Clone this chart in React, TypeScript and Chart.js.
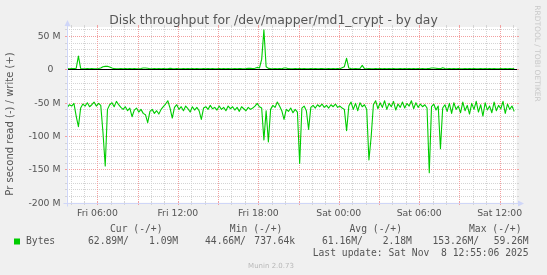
import React, { useEffect, useRef } from 'react';
import { Chart, registerables } from 'chart.js';

Chart.register(...registerables);

// ---- time axis (hours since Fri 00:00) ----
const START_HOUR = 3.75; // first sample: Fri 03:45
const STEP_HOURS = 1 / 6; // 10 minute samples
const X_MIN = 3.71;
const X_MAX = 37.27;

// ---- value axis (millions of bytes per second) ----
const Y_MIN = -200;
const Y_MAX = 63.6;

// Read throughput (M/s), plotted below zero
const READ_M = [
  57, 53, 55, 51, 70, 86, 58, 52, 55, 50,
  56, 53, 49, 55, 51, 54, 95, 145, 60, 53,
  50, 56, 48, 53, 57, 60, 56, 62, 58, 71,
  61, 58, 64, 60, 66, 68, 80, 63, 60, 66,
  62, 67, 60, 56, 52, 47, 58, 73, 57, 53,
  60, 56, 62, 55, 59, 64, 56, 61, 57, 62,
  75, 58, 56, 60, 54, 59, 57, 61, 55, 60,
  57, 62, 55, 59, 56, 61, 57, 63, 56, 59,
  62, 57, 60, 58, 55, 51, 56, 58, 106, 62,
  109, 60, 54, 57, 49, 55, 62, 75, 60, 63,
  58, 65, 60, 64, 141, 58, 55, 62, 90, 57,
  54, 58, 53, 56, 52, 57, 54, 58, 53, 56,
  52, 57, 55, 58, 60, 92, 55, 49, 60, 51,
  62, 50, 56, 53, 60, 136, 101, 53, 47, 59,
  50, 57, 47, 60, 51, 56, 48, 61, 52, 57,
  49, 58, 51, 55, 47, 59, 50, 57, 52, 56,
  53, 58, 155, 56, 52, 61, 55, 119, 58, 53,
  63, 51, 66, 50, 60, 55, 65, 49, 62, 54,
  67, 51, 60, 48, 64, 53, 70, 50, 61, 55,
  65, 49, 62, 54, 59, 48, 66, 52, 60, 55,
  63,
];

// Write throughput (M/s), plotted above zero
const WRITE_M = [
  1.2, 1.0, 1.3, 1.1, 1.6, 20, 1.4, 1.0, 0.9, 1.1,
  1.0, 1.2, 0.9, 1.0, 1.3, 2.0, 4.0, 4.5, 4.8, 3.5,
  2.0, 1.1, 1.0, 0.9, 1.2, 1.0, 1.1, 0.9, 1.3, 1.0,
  1.1, 1.0, 0.9, 1.2, 2.2, 2.0, 1.8, 1.0, 0.9, 1.1,
  1.0, 1.2, 1.0, 1.1, 0.9, 1.0, 1.6, 1.2, 1.0, 1.1,
  0.9, 1.0, 1.3, 1.0, 1.2, 0.9, 1.1, 1.0, 1.4, 1.0,
  0.9, 1.2, 1.0, 1.1, 1.0, 1.3, 1.0, 0.74, 1.1, 1.0,
  1.2, 1.0, 1.1, 0.9, 1.0, 1.2, 1.0, 1.3, 1.1, 1.0,
  1.2, 1.5, 1.8, 1.2, 1.6, 3.0, 2.0, 15, 59.26, 4.0,
  1.5, 1.2, 1.0, 1.1, 1.0, 1.2, 1.0, 2.2, 2.0, 1.1,
  1.0, 0.9, 1.2, 1.0, 1.1, 1.0, 1.3, 1.0, 0.9, 1.1,
  1.0, 1.2, 1.0, 1.1, 1.4, 1.0, 0.9, 1.2, 1.0, 1.1,
  1.0, 1.3, 1.0, 2.5, 4.0, 16.7, 2.0, 1.2, 1.0, 1.3,
  1.0, 1.4, 6.0, 1.2, 1.0, 1.1, 0.9, 1.0, 1.2, 1.0,
  1.1, 0.9, 1.3, 1.0, 1.2, 1.0, 1.1, 0.9, 1.0, 1.2,
  1.0, 1.1, 1.0, 1.3, 1.0, 1.2, 0.9, 1.1, 1.0, 1.2,
  1.0, 1.1, 1.3, 2.0, 2.2, 1.8, 1.2, 1.1, 2.5, 1.2,
  1.0, 1.1, 1.0, 1.3, 1.0, 1.2, 0.9, 1.0, 1.1, 1.0,
  1.2, 1.0, 1.1, 0.9, 1.0, 1.3, 1.0, 1.1, 1.0, 1.2,
  1.0, 1.1, 0.9, 1.0, 1.2, 1.0, 1.3, 1.0, 1.1, 1.0,
  1.09,
];

const X_TICK_HOURS = [6, 12, 18, 24, 30, 36];
const X_TICK_LABELS = ['Fri 06:00', 'Fri 12:00', 'Fri 18:00', 'Sat 00:00', 'Sat 06:00', 'Sat 12:00'];
const Y_TICK_VALUES = [50, 0, -50, -100, -150, -200];
const Y_TICK_LABELS = ['50 M', '0', '-50 M', '-100 M', '-150 M', '-200 M'];

const TITLE = 'Disk throughput for /dev/mapper/md1_crypt - by day';
const Y_TITLE = 'Pr second read (-) / write (+)';
const SERIES_NAME = 'Bytes';
const LEGEND_HEADERS = ['Cur (-/+)', 'Min (-/+)', 'Avg (-/+)', 'Max (-/+)'];
const STAT_READ = ['62.89M/', '44.66M/', '61.16M/', '153.26M/'];
const STAT_WRITE = ['1.09M', '737.64k', '2.18M', '59.26M'];
const LAST_UPDATE = 'Last update: Sat Nov  8 12:55:06 2025';
const VERSION = 'Munin 2.0.73';
const WATERMARK = 'RRDTOOL / TOBI OETIKER';

const GREEN = '#00cc00';
const TEXT = '#555555';

const rrdPlugin = {
  id: 'rrdStyle',
  beforeDraw(chart: any) {
    const { ctx, chartArea: a, width, height } = chart;
    const xs = chart.scales.x;
    const ys = chart.scales.y;
    ctx.save();
    ctx.fillStyle = '#f0f0f0';
    ctx.fillRect(0, 0, width, height);
    ctx.fillStyle = '#ffffff';
    ctx.fillRect(a.left, a.top, a.right - a.left, a.bottom - a.top);

    const L = Math.round(a.left);
    const R = Math.round(a.right);
    const T = Math.round(a.top);
    const B = Math.round(a.bottom);
    ctx.lineWidth = 1;

    const drawH = (v: number, color: string) => {
      const y = Math.round(ys.getPixelForValue(v)) + 0.5;
      ctx.strokeStyle = color;
      ctx.setLineDash([1, 1]);
      ctx.beginPath();
      ctx.moveTo(L, y);
      ctx.lineTo(R, y);
      ctx.stroke();
      ctx.setLineDash([]);
      ctx.beginPath();
      ctx.moveTo(L - 2, y);
      ctx.lineTo(L, y);
      ctx.moveTo(R, y);
      ctx.lineTo(R + 2, y);
      ctx.stroke();
    };
    const drawV = (h: number, color: string) => {
      const x = Math.round(xs.getPixelForValue(h)) + 0.5;
      ctx.strokeStyle = color;
      ctx.setLineDash([1, 1]);
      ctx.beginPath();
      ctx.moveTo(x, T);
      ctx.lineTo(x, B);
      ctx.stroke();
      ctx.setLineDash([]);
      ctx.beginPath();
      ctx.moveTo(x, B - 1);
      ctx.lineTo(x, B + 2);
      ctx.moveTo(x, T - 2);
      ctx.lineTo(x, T);
      ctx.stroke();
    };

    const minorC = '#d4d4d4';
    const majorC = '#f2a0a0';
    for (let v = -200; v <= 60; v += 10) if (v % 50 !== 0) drawH(v, minorC);
    for (let h = Math.ceil(X_MIN); h <= Math.floor(X_MAX); h++) if (h % 3 !== 0) drawV(h, minorC);
    for (let v = -200; v <= 60; v += 10) if (v % 50 === 0) drawH(v, majorC);
    for (let h = Math.ceil(X_MIN); h <= Math.floor(X_MAX); h++) if (h % 3 === 0) drawV(h, majorC);
    ctx.restore();
  },
  afterDatasetsDraw(chart: any) {
    const { ctx, chartArea: a, width } = chart;
    const xs = chart.scales.x;
    const ys = chart.scales.y;
    ctx.save();
    const L = Math.round(a.left) + 0.5;
    const B = Math.round(a.bottom) + 0.5;
    const T = Math.round(a.top);
    const R = Math.round(a.right);

    // zero rule, drawn over the series like rrdtool does
    const y0 = Math.round(ys.getPixelForValue(0)) + 0.5;
    ctx.lineWidth = 1;
    ctx.strokeStyle = '#000000';
    ctx.beginPath();
    ctx.moveTo(Math.round(a.left), y0);
    ctx.lineTo(R, y0);
    ctx.stroke();

    // axes with arrows
    ctx.strokeStyle = '#cfd6f8';
    ctx.fillStyle = '#cfd6f8';
    ctx.beginPath();
    ctx.moveTo(L, B + 3);
    ctx.lineTo(L, T - 3);
    ctx.moveTo(L - 4, B);
    ctx.lineTo(R + 2, B);
    ctx.stroke();
    ctx.beginPath();
    ctx.moveTo(L, T - 7);
    ctx.lineTo(L - 3, T - 1);
    ctx.lineTo(L + 3, T - 1);
    ctx.closePath();
    ctx.fill();
    ctx.beginPath();
    ctx.moveTo(R + 7, B);
    ctx.lineTo(R + 1, B - 3);
    ctx.lineTo(R + 1, B + 3);
    ctx.closePath();
    ctx.fill();

    // title
    ctx.fillStyle = TEXT;
    ctx.textAlign = 'center';
    ctx.textBaseline = 'alphabetic';
    ctx.font = '12.4px "DejaVu Sans"';
    ctx.fillText(TITLE, width / 2, 24);

    // x tick labels
    ctx.font = '9.3px "DejaVu Sans"';
    ctx.textBaseline = 'middle';
    X_TICK_HOURS.forEach((h, i) => {
      ctx.fillText(X_TICK_LABELS[i], xs.getPixelForValue(h), 213.5);
    });

    // y tick labels
    ctx.textAlign = 'right';
    Y_TICK_VALUES.forEach((v, i) => {
      const lab = Y_TICK_LABELS[i];
      const xr = lab.indexOf('M') >= 0 ? 60.5 : 53.5;
      ctx.fillText(lab, xr, ys.getPixelForValue(v) + 0.5);
    });

    // y title
    ctx.save();
    ctx.translate(10.5, 124);
    ctx.rotate(-Math.PI / 2);
    ctx.textAlign = 'center';
    ctx.font = '10px "DejaVu Sans"';
    ctx.fillText(Y_TITLE, 0, 0);
    ctx.restore();

    // watermark
    ctx.save();
    ctx.translate(536.5, 53.5);
    ctx.rotate(Math.PI / 2);
    ctx.textAlign = 'center';
    ctx.fillStyle = '#c8c8c8';
    ctx.font = '7.5px "DejaVu Sans"';
    ctx.fillText(WATERMARK, 0, 0);
    ctx.restore();

    // legend
    ctx.font = '9.7px "DejaVu Sans Mono"';
    ctx.textAlign = 'left';
    ctx.fillStyle = TEXT;
    const headX = [110, 229.8, 349.5, 469];
    LEGEND_HEADERS.forEach((s, i) => ctx.fillText(s, headX[i], 229));
    ctx.fillStyle = GREEN;
    ctx.fillRect(14, 238.5, 6, 6);
    ctx.fillStyle = TEXT;
    ctx.fillText(SERIES_NAME, 26, 241.5);
    const readX = [88, 205, 322, 432.5];
    STAT_READ.forEach((s, i) => ctx.fillText(s, readX[i], 241.5));
    ctx.textAlign = 'right';
    const writeX = [178.2, 295.2, 411.8, 528.7];
    STAT_WRITE.forEach((s, i) => ctx.fillText(s, writeX[i], 241.5));
    ctx.fillText(LAST_UPDATE, 528.5, 253.8);

    ctx.textAlign = 'center';
    ctx.fillStyle = '#b8b8b8';
    ctx.font = '7px "DejaVu Sans"';
    ctx.fillText(VERSION, 271, 266);
    ctx.restore();
  },
};

export default function App() {
  const ref = useRef<HTMLCanvasElement | null>(null);
  useEffect(() => {
    if (!ref.current) return;
    const readPts = READ_M.map((v, i) => ({ x: START_HOUR + i * STEP_HOURS, y: -v }));
    const writePts = WRITE_M.map((v, i) => ({ x: START_HOUR + i * STEP_HOURS, y: v }));
    const chart = new Chart(ref.current, {
      type: 'line',
      data: {
        datasets: [
          { label: 'read', data: readPts, borderColor: GREEN, borderWidth: 1.1, pointRadius: 0, tension: 0, fill: false },
          { label: 'write', data: writePts, borderColor: GREEN, borderWidth: 1.1, pointRadius: 0, tension: 0, fill: false },
        ],
      },
      options: {
        animation: false,
        responsive: false,
        devicePixelRatio: 1,
        layout: { padding: { left: 66.7, right: 30.3, top: 27, bottom: 72.3 } },
        scales: {
          x: { type: 'linear', min: X_MIN, max: X_MAX, display: false },
          y: { type: 'linear', min: Y_MIN, max: Y_MAX, display: false },
        },
        plugins: { legend: { display: false }, title: { display: false }, tooltip: { enabled: false } },
        elements: { line: { borderJoinStyle: 'round' } },
      },
      plugins: [rrdPlugin],
    });
    return () => chart.destroy();
  }, []);
  return (
    <div style={{ position: 'fixed', left: 0, top: 0, width: 547, height: 275 }}>
      <canvas ref={ref} width={547} height={275} style={{ display: 'block' }} />
    </div>
  );
}
